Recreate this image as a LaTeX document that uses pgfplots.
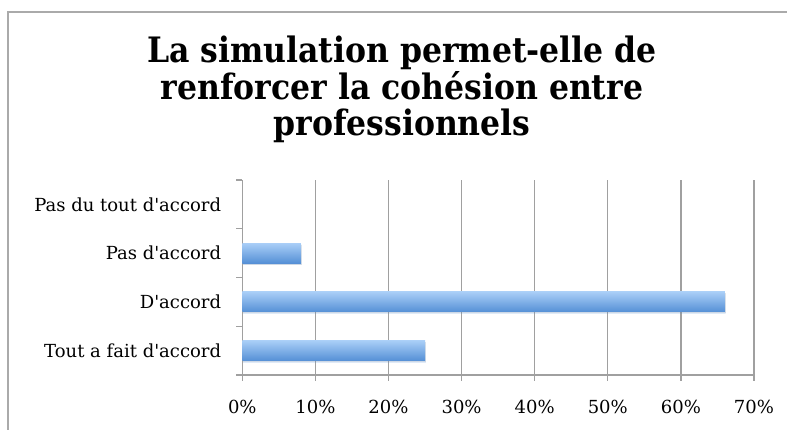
\documentclass[border=0pt]{standalone}
\usepackage{fontspec}
\setmainfont{DejaVu Serif}
\newfontfamily\titlefont{DejaVu Serif Condensed}
\usepackage{pgfplots}
\pgfplotsset{compat=1.18}
\usetikzlibrary{shadows}
\definecolor{gridgray}{HTML}{A0A0A0}
\definecolor{framegray}{HTML}{AAAAAA}
\definecolor{bartop}{HTML}{A9CEF7}
\definecolor{barbot}{HTML}{5590D6}
\pgfplotsset{
  mybar/.style={xbar, bar width=20pt, bar shift=0pt, draw=none,
    top color=bartop, bottom color=barbot,
    drop shadow={shadow xshift=0.8pt, shadow yshift=-1.5pt, opacity=0.18}},
}
\begin{document}
\begin{tikzpicture}[x=1pt,y=1pt]
\useasboundingbox (0,0) rectangle (787,430);
\fill[white] (0,0) rectangle (787,430);
\draw[framegray, line width=2pt] (8,0) -- (8,418) -- (787,418);
\begin{scope}[every node/.style={anchor=base, inner sep=0pt, font=\titlefont\bfseries\fontsize{35}{38}\selectfont}]
\node at (402,367) {La simulation permet-elle de};
\node at (402,330.5) {renforcer la cohésion entre};
\node at (402,294) {professionnels};
\end{scope}
\begin{axis}[
  at={(242.3pt,55pt)}, anchor=south west,
  scale only axis, width=511.7pt, height=195pt,
  xmin=0, xmax=70, ymin=-0.5, ymax=3.5,
  axis x line*=bottom, axis y line*=left,
  axis line style={-, draw=gridgray, line width=1.3pt},
  xtick={0,10,...,70},
  xticklabels={0\%,10\%,20\%,30\%,40\%,50\%,60\%,70\%},
  xmajorgrids, grid style={draw=gridgray, line width=1.3pt},
  ytick={0,1,2,3},
  yticklabels={Tout a fait d\textquotesingle accord, D\textquotesingle accord, Pas d\textquotesingle accord, Pas du tout d\textquotesingle accord},
  minor ytick={-0.5,0.5,1.5,2.5,3.5},
  major y tick style={draw=none},
  tick align=outside,
  major tick length=6pt, minor tick length=6pt,
  tick style={draw=gridgray, line width=1.3pt},
  ticklabel style={font=\fontsize{18}{21}\selectfont, text=black},
  yticklabel style={anchor=east, inner sep=0pt, xshift=-15pt},
  xticklabel style={anchor=base, inner sep=0pt, yshift=-33pt},
]
\addplot[mybar] coordinates {(25,0)};
\addplot[mybar] coordinates {(66,1)};
\addplot[mybar] coordinates {(8,2)};
\end{axis}
\end{tikzpicture}
\end{document}
